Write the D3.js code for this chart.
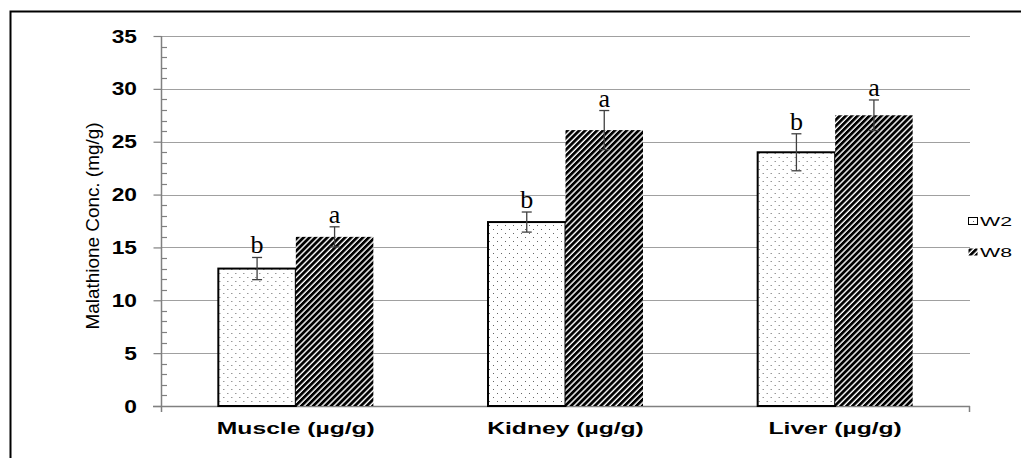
<!DOCTYPE html>
<html><head><meta charset="utf-8">
<script src="https://cdn.jsdelivr.net/npm/d3@7/dist/d3.min.js"></script>
<style>body{margin:0;background:#fff}svg{display:block}</style>
</head><body><svg id="c" width="1021" height="458"></svg>
<script>
const categories = ["Muscle (µg/g)", "Kidney (µg/g)", "Liver (µg/g)"];
const seriesNames = ["W2", "W8"];
const w2Values = [13.0, 17.4, 24.0];
const w8Values = [16.0, 26.1, 27.5];
const w2Errors = [1.05, 0.95, 1.75];
const w8Errors = [0.95, 1.85, 1.45];
const w2Letters = ["b", "b", "b"];
const w8Letters = ["a", "a", "a"];
const yTicks = [0, 5, 10, 15, 20, 25, 30, 35];

const svg = d3.select("#c");
const defs = svg.append("defs");
const dots = defs.append("pattern").attr("id","dots").attr("patternUnits","userSpaceOnUse")
  .attr("width",8).attr("height",8);
dots.append("rect").attr("width",8).attr("height",8).attr("fill","#fff");
dots.append("rect").attr("x",1).attr("y",1).attr("width",1).attr("height",1).attr("fill","#666");
dots.append("rect").attr("x",5).attr("y",5).attr("width",1).attr("height",1).attr("fill","#666");
const hatch = defs.append("pattern").attr("id","hatch").attr("patternUnits","userSpaceOnUse")
  .attr("width",4.2).attr("height",4.2).attr("patternTransform","rotate(45)");
hatch.append("rect").attr("width",4.2).attr("height",4.2).attr("fill","#fff");
hatch.append("rect").attr("x",0).attr("y",0).attr("width",2.8).attr("height",4.2).attr("fill","#000");

// frame
svg.append("rect").attr("x",10.5).attr("y",11.5).attr("width",1030).attr("height",470)
  .attr("fill","none").attr("stroke","#000").attr("stroke-width",2);

const x0 = d3.scaleBand().domain(categories).range([161, 970]).padding(0);
const groupW = 155;
const x1 = d3.scaleBand().domain(seriesNames).range([0, groupW]).padding(0);
const y = d3.scaleLinear().domain([0, 35]).range([406, 36]);

// gridlines
svg.append("g").selectAll("line").data(yTicks.filter(d=>d>0)).join("line")
  .attr("x1",161).attr("x2",970).attr("y1",d=>Math.round(y(d))+0.5).attr("y2",d=>Math.round(y(d))+0.5)
  .attr("stroke","#a0a0a0").attr("stroke-width",1);

// y axis with minor ticks
const axisCol = "#808080";
const minor = d3.range(0, 36).filter(d => d % 5 !== 0);
svg.append("g").selectAll("line").data(minor).join("line")
  .attr("x1",161).attr("x2",167).attr("y1",d=>Math.round(y(d))+0.5).attr("y2",d=>Math.round(y(d))+0.5)
  .attr("stroke",axisCol).attr("stroke-width",1.2);
const yAxis = svg.append("g").attr("transform","translate(161.5,0)")
  .call(d3.axisLeft(y).tickValues(yTicks).tickSize(8).tickPadding(0));
yAxis.select(".domain").remove();
yAxis.selectAll(".tick line").attr("stroke",axisCol).attr("stroke-width",1.2);
yAxis.selectAll(".tick text").remove();
svg.append("line").attr("x1",161.5).attr("x2",161.5).attr("y1",36).attr("y2",412)
  .attr("stroke",axisCol).attr("stroke-width",1.5);
svg.append("g").selectAll("text").data(yTicks).join("text")
  .attr("x",137).attr("y",d=>y(d)+6.5).attr("text-anchor","end")
  .attr("font-family","Liberation Sans, Arial, sans-serif").attr("font-weight","bold")
  .attr("font-size",17.5).attr("fill","#000")
  .text(d=>d)
  .each(function(){ const L=this.getComputedTextLength(); d3.select(this).attr("textLength",L*1.3).attr("lengthAdjust","spacingAndGlyphs"); });

// x axis
svg.append("line").attr("x1",153).attr("x2",970).attr("y1",406.5).attr("y2",406.5)
  .attr("stroke",axisCol).attr("stroke-width",1.5);
svg.append("line").attr("x1",969.5).attr("x2",969.5).attr("y1",406).attr("y2",412)
  .attr("stroke",axisCol).attr("stroke-width",1.5);
svg.append("g").selectAll("text").data(categories).join("text")
  .attr("x",d=>x0(d)+x0.bandwidth()/2).attr("y",434).attr("text-anchor","middle")
  .attr("font-family","Liberation Sans, Arial, sans-serif").attr("font-weight","bold")
  .attr("font-size",17).attr("fill","#000").text(d=>d)
  .each(function(){ const L=this.getComputedTextLength(); d3.select(this).attr("textLength",L*1.45).attr("lengthAdjust","spacingAndGlyphs"); });

// y title
svg.append("text").attr("transform","translate(99,226) rotate(-90)").attr("text-anchor","middle")
  .attr("font-family","Liberation Sans, Arial, sans-serif").attr("font-size",19).attr("fill","#000")
  .attr("textLength",207).attr("lengthAdjust","spacingAndGlyphs")
  .text("Malathione Conc. (mg/g)");

// bars
const rows = categories.map((c,i)=>({c,
  vals:[{s:"W2",v:w2Values[i],e:w2Errors[i],l:w2Letters[i]},{s:"W8",v:w8Values[i],e:w8Errors[i],l:w8Letters[i]}]}));
const g = svg.append("g");
const grp = g.selectAll("g").data(rows).join("g")
  .attr("transform",d=>`translate(${x0(d.c)+x0.bandwidth()/2-groupW/2},0)`);
const bars = grp.selectAll("g").data(d=>d.vals).join("g");
bars.append("rect")
  .attr("x",d=>x1(d.s)).attr("width",x1.bandwidth())
  .attr("y",d=>y(d.v)).attr("height",d=>y(0)-y(d.v))
  .attr("fill",d=>d.s==="W2"?"url(#dots)":"url(#hatch)")
  .attr("stroke",d=>d.s==="W2"?"#000":"none").attr("stroke-width",2);
const errCol = "#404040";
bars.append("line").attr("x1",d=>x1(d.s)+x1.bandwidth()/2).attr("x2",d=>x1(d.s)+x1.bandwidth()/2)
  .attr("y1",d=>y(d.v+d.e)).attr("y2",d=>y(d.v-d.e)).attr("stroke",errCol).attr("stroke-width",1.3);
bars.append("line").attr("x1",d=>x1(d.s)+x1.bandwidth()/2-5).attr("x2",d=>x1(d.s)+x1.bandwidth()/2+5)
  .attr("y1",d=>y(d.v+d.e)).attr("y2",d=>y(d.v+d.e)).attr("stroke",errCol).attr("stroke-width",1.3);
bars.append("line").attr("x1",d=>x1(d.s)+x1.bandwidth()/2-5).attr("x2",d=>x1(d.s)+x1.bandwidth()/2+5)
  .attr("y1",d=>y(d.v-d.e)).attr("y2",d=>y(d.v-d.e)).attr("stroke",errCol).attr("stroke-width",1.3);
bars.append("text").attr("x",d=>x1(d.s)+x1.bandwidth()/2).attr("y",d=>y(d.v+d.e)-4)
  .attr("text-anchor","middle").attr("font-family","Liberation Serif, Times New Roman, serif")
  .attr("font-size",26).attr("fill","#000").text(d=>d.l);

// legend
const leg = svg.append("g");
const legY = [221, 252];
seriesNames.forEach((s,i)=>{
  leg.append("rect").attr("x",968.5).attr("y",legY[i]-3.5).attr("width",9).attr("height",7)
    .attr("fill",s==="W2"?"url(#dots)":"url(#hatch)").attr("stroke",s==="W2"?"#000":"none").attr("stroke-width",1);
  leg.append("text").attr("x",980).attr("y",legY[i]+5)
    .attr("font-family","Liberation Sans, Arial, sans-serif").attr("font-size",13.5).attr("fill","#000")
    .attr("textLength",32).attr("lengthAdjust","spacingAndGlyphs").text(s);
});
</script></body></html>
